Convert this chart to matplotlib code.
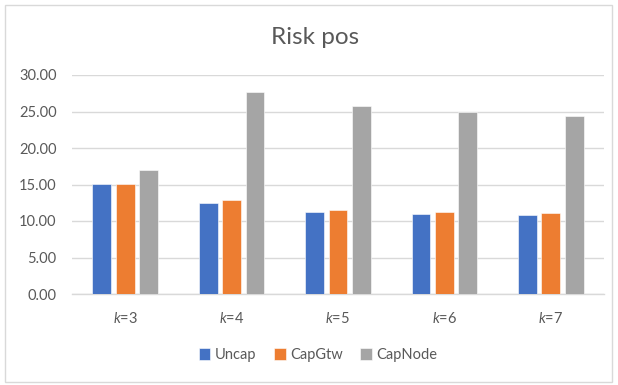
import matplotlib.pyplot as plt
import numpy as np
from matplotlib.patches import Rectangle

# risk values per k for each capacity setting
categories = ['3', '4', '5', '6', '7']
uncap = [15.1, 12.5, 11.2, 10.9, 10.8]
cap_gtw = [15.1, 12.9, 11.5, 11.2, 11.1]
cap_node = [17.0, 27.7, 25.8, 24.9, 24.4]
series_names = ['Uncap', 'CapGtw', 'CapNode']
colors = ['#4472C4', '#ED7D31', '#A5A5A5']

plt.rcParams['font.family'] = ['Lato', 'DejaVu Sans']
plt.rcParams['mathtext.fontset'] = 'custom'
plt.rcParams['mathtext.it'] = 'Lato:italic'
plt.rcParams['mathtext.rm'] = 'Lato'


def plot_risk():
    fig = plt.figure(figsize=(6.18, 3.85), dpi=100)
    ax = fig.add_axes([72 / 618, 1 - 294 / 385, (604 - 72) / 618, (294 - 75) / 385])

    # thin chart border
    fig.patches.append(Rectangle((5 / 618, 3 / 385), 607 / 618, 377 / 385,
                                 transform=fig.transFigure, fill=False,
                                 edgecolor='#D9D9D9', linewidth=1))

    x = np.arange(len(categories))
    width = 0.175
    step = 0.22
    for i, (vals, name) in enumerate(zip([uncap, cap_gtw, cap_node], series_names)):
        ax.bar(x + (i - 1) * step, vals, width, color=colors[i], label=name,
               edgecolor='white', linewidth=0.4, zorder=3)

    ax.set_xlim(-0.5, len(categories) - 0.5)
    ax.set_ylim(0, 30)
    ax.set_yticks(np.arange(0, 30.1, 5))
    ax.set_yticklabels(['%.2f' % v for v in np.arange(0, 30.1, 5)])
    ax.set_xticks(x)
    ax.set_xticklabels(['$k$=' + c for c in categories])
    ax.tick_params(axis='both', length=0, labelsize=10.5, colors='#595959')
    ax.tick_params(axis='x', pad=12)
    ax.tick_params(axis='y', pad=11)

    ax.grid(axis='y', color='#D9D9D9', linewidth=1, zorder=0)
    for s in ['top', 'right', 'left']:
        ax.spines[s].set_visible(False)
    ax.spines['bottom'].set_color('#D9D9D9')
    ax.spines['bottom'].set_linewidth(1)

    fig.text(315 / 618, 1 - 37 / 385, 'Risk pos', ha='center', va='center',
             fontsize=17.5, color='#595959')

    fig.legend(loc='center', bbox_to_anchor=(318 / 618, 1 - 355 / 385), ncol=3,
               frameon=False, fontsize=10.5, handlelength=0.8, handleheight=0.8,
               handletextpad=0.3, columnspacing=1.2, labelcolor='#595959')

    fig.savefig('out.png', dpi=100)


if __name__ == "__main__":
    plot_risk()
